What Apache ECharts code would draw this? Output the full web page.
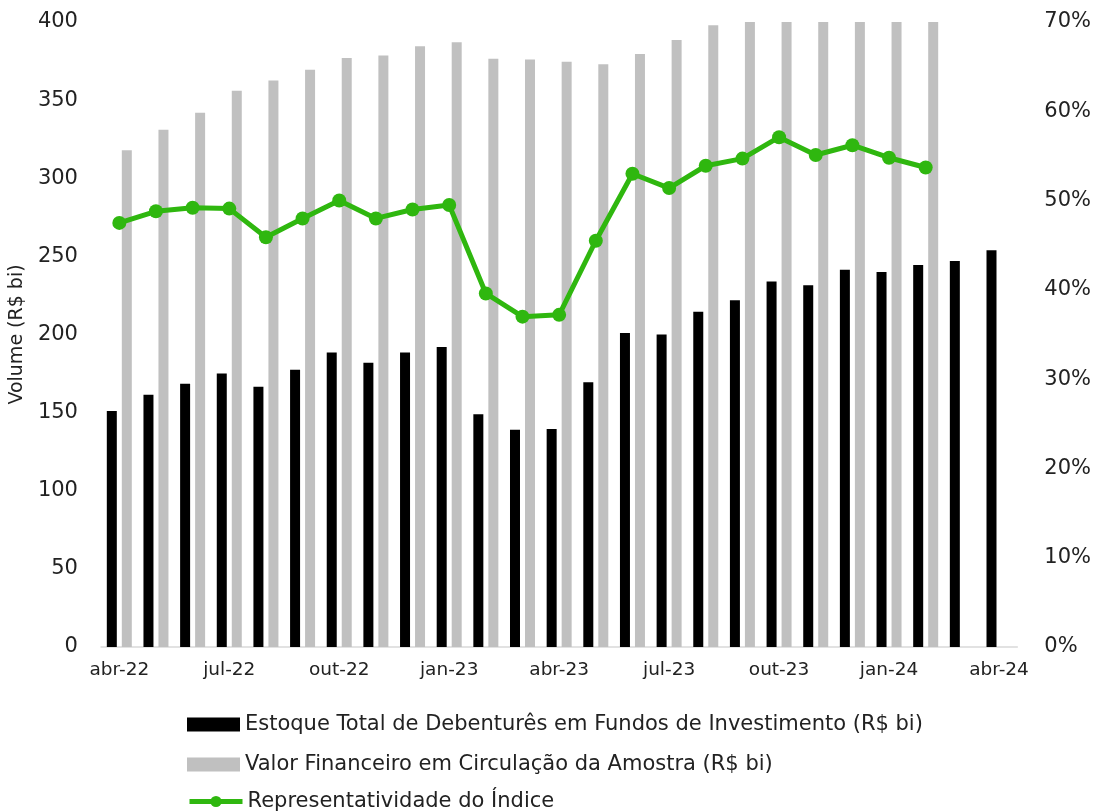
<!DOCTYPE html>
<html>
<head>
<meta charset="utf-8">
<script src="https://cdn.jsdelivr.net/npm/echarts@6/dist/echarts.min.js"></script>
<style>
    html, body { margin: 0; padding: 0; background: #fff; }
    #chart { width: 1094px; height: 811px; }
</style>
</head>
<body>
<div id="chart"></div>
<script>
var meses = ['abr-22', 'mai-22', 'jun-22', 'jul-22', 'ago-22', 'set-22', 'out-22', 'nov-22', 'dez-22',
    'jan-23', 'fev-23', 'mar-23', 'abr-23', 'mai-23', 'jun-23', 'jul-23', 'ago-23', 'set-23', 'out-23',
    'nov-23', 'dez-23', 'jan-24', 'fev-24', 'mar-24', 'abr-24'];

// Estoque Total de Debentures em Fundos (R$ bi)
var estoque = [151, 161.5, 168.5, 175, 166.5, 177.5, 188.5, 182, 188.5, 192, 149, 139, 139.5,
    169.5, 201, 200, 214.5, 222, 234, 231.5, 241.5, 240, 244.5, 247, 254];

// Valor Financeiro em Circulacao da Amostra (R$ bi)
var valorAmostra = [318, 331, 342, 356, 362.5, 369.5, 377, 378.5, 384.5, 387, 376.5, 376, 374.5,
    373, 379.5, 388.5, 398, 400, 400, 400, 400, 400, 400, null, null];

// Representatividade do Indice (%)
var representatividade = [47.5, 48.8, 49.2, 49.1, 45.9, 48.0, 50.0, 48.0, 49.0, 49.5, 39.6, 37.0, 37.2,
    45.5, 53.0, 51.4, 53.9, 54.7, 57.1, 55.1, 56.2, 54.8, 53.7, null, null];

var nomes = [
    'Estoque Total de Debenturês em Fundos de Investimento (R$ bi)',
    'Valor Financeiro em Circulação da Amostra (R$ bi)',
    'Representatividade do Índice'
];

var verde = '#2fb70f';
var fonte = 'DejaVu Sans';

var chart = echarts.init(document.getElementById('chart'));

//legenda: uma por linha
var legendTops = [714, 754, 791];
var legendIcons = ['rect', 'rect', null];
var legendas = nomes.map(function (nome, i) {
    var lg = {
        left: 187,
        top: legendTops[i],
        padding: 0,
        itemWidth: 53,
        itemHeight: 14,
        itemGap: 0,
        textStyle: {
            fontFamily: fonte,
            fontSize: 21,
            color: '#222'
        },
        lineStyle: { width: 5 },
        data: [nome]
    };
    if (legendIcons[i]) lg.icon = legendIcons[i];
    return lg;
});

var option = {
    animation: false,
    backgroundColor: '#fff',
    grid: {
        left: 100,
        right: 66,
        top: 22,
        bottom: 164
    },
    legend: legendas,
    xAxis: {
        type: 'category',
        data: meses,
        axisLine: { lineStyle: { color: '#d9d9d9', width: 1.5 } },
        axisTick: { interval: 2, length: 6, lineStyle: { color: '#d9d9d9' } },
        axisLabel: {
            interval: 2,
            margin: 14,
            fontFamily: fonte,
            fontSize: 18.5,
            color: '#222'
        }
    },
    yAxis: [
        {
            type: 'value',
            min: 0,
            max: 400,
            interval: 50,
            name: 'Volume (R$ bi)',
            nameLocation: 'middle',
            nameGap: 67,
            nameTextStyle: { fontFamily: fonte, fontSize: 19, color: '#222' },
            axisLine: { show: false },
            axisTick: { show: false },
            splitLine: { show: false },
            axisLabel: {
                margin: 23,
                fontFamily: fonte,
                fontSize: 21,
                color: '#222'
            }
        },
        {
            type: 'value',
            min: 0,
            max: 70,
            interval: 10,
            axisLine: { show: false },
            axisTick: { show: false },
            splitLine: { show: false },
            axisLabel: {
                margin: 27,
                fontFamily: fonte,
                fontSize: 21,
                color: '#222',
                formatter: '{value}%'
            }
        }
    ],
    series: [
        {
            name: nomes[0],
            type: 'bar',
            barWidth: 10,
            barGap: '50%',
            itemStyle: { color: '#000' },
            data: estoque
        },
        {
            name: nomes[1],
            type: 'bar',
            barWidth: 10,
            itemStyle: { color: '#c0c0c0' },
            data: valorAmostra
        },
        {
            name: nomes[2],
            type: 'line',
            yAxisIndex: 1,
            symbol: 'circle',
            symbolSize: 14,
            lineStyle: { color: verde, width: 5 },
            itemStyle: { color: verde },
            z: 5,
            data: representatividade
        }
    ]
};
chart.setOption(option);
</script>
</body>
</html>
